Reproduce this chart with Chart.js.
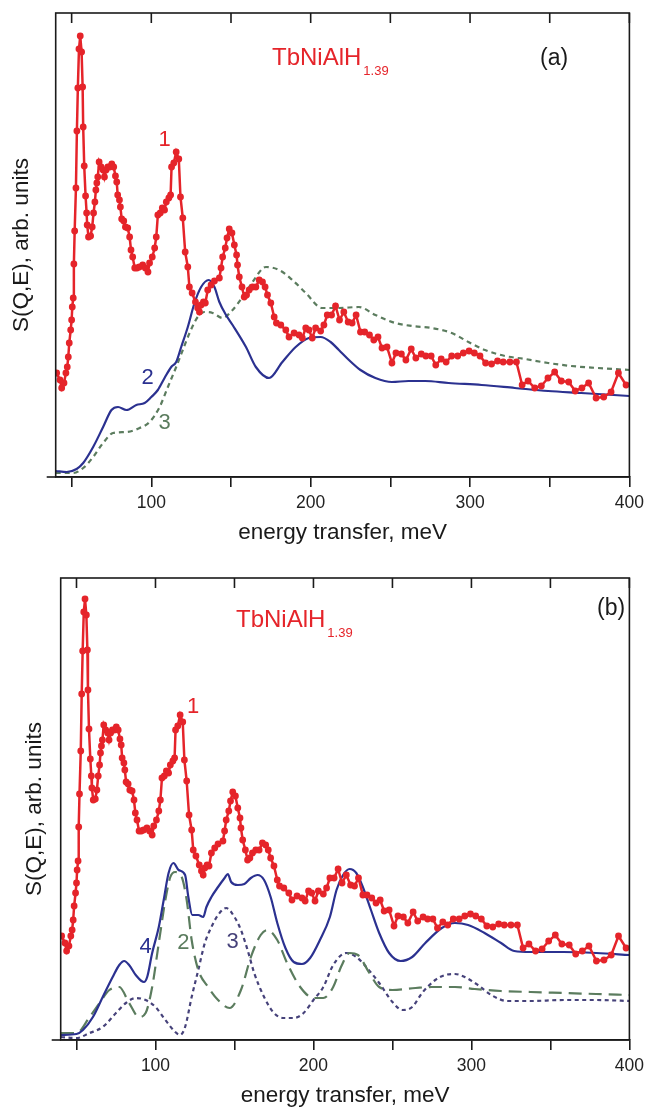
<!DOCTYPE html>
<html><head><meta charset="utf-8">
<script src="https://cdn.jsdelivr.net/npm/chart.js@4.4.1/dist/chart.umd.min.js"></script>
<style>
html,body{margin:0;padding:0;background:#fff;width:650px;height:1109px;overflow:hidden}
canvas{position:absolute;left:0}
#ca{top:0}
#cb{top:555px}
</style></head><body>
<canvas id="ca" width="650" height="555"></canvas>
<canvas id="cb" width="650" height="554"></canvas>
<script>
// ---- measured spectrum (curve 1), energy transfer in meV and S(Q,E) in arb. units ----
const redE = [40.6,42.7,43.75,45.2,46.4,47.25,47.9,48.5,49.4,50,50.4,51,51.4,51.9,52.7,53.3,53.9,54.6,55.4,56.25,56.9,57.25,57.9,58.75,59.4,59.75,60.6,61.9,62.9,63.75,64.6,65.2,65.8,66.4,67.25,68.5,69.75,70.6,71.6,72.7,73.9,75.2,76.4,77.5,78.3,78.9,80,80.6,81.4,82.7,83.75,85.2,86.4,87.25,88.3,89.6,91,92.5,94.6,96.25,97.9,98.9,100.6,102.1,103.1,104.1,105.6,106.9,108.3,109.4,111,112.1,112.7,114.1,115.6,117.25,118.3,119.75,121.25,122.9,123.9,125.6,127.7,129.1,130.2,131.25,132.7,133.9,135.4,137.5,139.6,142.7,143.75,144.75,146.4,147.5,148.9,150.6,152.1,153.5,154.1,155.2,156.9,158.3,159.75,161.4,163.5,165.6,167.7,169.75,171.4,172.9,175,177.1,178.5,181.25,184.4,186.4,189.6,192.7,194.75,196.9,198.9,201,203.1,206.25,208.3,210.4,213.1,215.6,218.1,220.8,223.5,226,228.5,231.25,233.9,236.9,239.6,242.25,244.75,247.9,251,253.5,256.9,259.75,263.1,266,269.4,272.25,275.6,278.5,281.9,285,288.5,292.25,295.8,299.4,302.7,306.25,309.75,313.5,317.25,320.8,325,329.1,332.7,336.4,340.6,344.75,348.9,353.1,357.25,361.9,366,370.2,374.4,379.1,383.9,388.5,393.1,397.9];
const redS = [104,97,89,94,104,110,120,134,147,157,170,179,213,246,289,346,389,428,441,425,390,350,311,281,264,252,240,241,250,264,275,287,294,300,315,310,307,300,307,310,310,313,310,301,295,282,277,270,258,256,250,249,240,227,220,209,209,210,212,209,205,214,220,229,240,262,264,269,267,275,279,282,310,314,325,318,280,259,225,210,190,184,175,169,165,172,175,174,187,192,196,199,209,220,229,239,248,244,232,222,212,200,190,180,182,187,190,190,197,195,190,182,174,160,154,152,147,140,144,142,139,149,147,139,149,146,152,162,162,171,157,165,155,154,162,145,145,142,137,140,129,130,114,124,123,117,128,119,123,121,121,112,118,115,121,121,124,126,124,121,114,113,116,115,115,115,92,96,89,91,99,105,96,95,86,89,94,79,80,85,104,92];

// ---- panel (a): curve 2 (solid) and curve 3 (dashed) ----
const blueAE = [40,46.9,53.1,57.25,63.5,69.75,75,79.1,84.4,90.6,95.8,100,104.1,108.3,112.5,115.6,118.75,122.9,127.1,131.25,136,139.6,142.7,146.9,151,159.4,165.6,173.9,182.25,190.6,198.9,206.25,212.5,217.7,224,231.25,240.6,251,261.4,271.9,286.5,307.25,328.1,349,369.75,400];
const blueAS = [6,5,8,14,30,50,67,70,67,72,74,80,87,99,110,115,130,150,174,190,197,190,175,162,152,130,110,99,115,130,139,140,135,127,117,107,99,95,96,96,94,92,89,86,84,81];
const greenAE = [40,51,57.25,63.5,69.75,76,84.4,92.7,98.9,105.2,110.4,115.6,119.75,124,129.1,133.3,138.5,144.75,151,157.25,163.5,171.9,180.2,188.5,196.9,207.25,217.7,230.2,240.6,253.1,263.5,276,288.5,299,309.4,321.9,334.4,349,363.5,380.2,400];
const greenAS = [4,4,9,20,34,44,45,49,55,70,90,110,127,144,160,165,164,159,167,180,195,210,207,197,184,169,169,170,162,154,151,149,144,135,127,121,118,114,111,109,107];

// ---- panel (b): curve 4 (solid), curve 2 (long dash), curve 3 (short dash) ----
const blueBE = [40.2,50,54.1,60.4,66.6,72.9,77.1,80.2,83.3,87.5,92.7,94.75,97.9,102.1,105.2,108.3,111.4,114.6,118.75,120.8,123.3,127.1,130.2,132.25,135.4,139.6,143.75,145.8,147.9,152.1,156.25,160.4,164.6,168.75,172.9,177.1,182.25,187.5,192.7,197.9,204.1,210.4,214.6,218.75,222.9,227.1,231.25,236.4,241.6,247.9,255.2,262.5,270.8,281.25,289.6,297.9,308.3,318.75,327.1,337.5,358.3,379.1,400];
const blueBS = [5,6,10,23,43,63,75,79,75,65,58,63,87,113,140,167,177,170,165,143,125,125,123,133,143,153,162,166,158,155,156,162,165,160,143,117,92,78,76,82,100,123,150,165,171,167,153,130,107,87,79,83,97,112,117,115,107,97,89,88,88,87,85];
const greenBE = [40.2,50,58.3,64.6,70.8,77.1,83.3,89.6,93.75,97.9,102.1,106.25,109.4,112.5,116.6,119.75,122.9,127.1,133.3,139.6,146.9,154.1,160.4,166.6,170.8,177.1,183.3,191.6,200,206.25,212.5,217.7,222.9,228.1,235.4,241.6,250,264.6,275,289.6,302.1,318.75,337.5,358.3,379.1,400];
const greenBS = [7,7,23,37,50,53,37,23,27,53,97,140,163,168,163,140,100,70,53,40,32,50,83,105,110,100,77,53,42,42,53,74,87,85,67,53,50,52,53,53,51,49,48,47,46,45];
const purpleBE = [40.2,50,58.3,66.6,75,81.25,87.5,93.75,100,106.25,112.5,115.6,118.75,122.9,127.1,131.25,135.4,139.6,144.75,150,154.1,158.3,162.5,168.75,175,181.25,187.5,193.75,200,206.25,212.5,220.8,227.1,233.4,241.6,250,256.25,262.5,268.75,277.1,283.3,289.6,295.8,304.1,312.5,322.9,337.5,358.3,379.1,400];
const purpleBS = [3,2,7,13,27,37,42,40,33,20,8,5,13,43,70,97,113,125,132,123,110,90,67,43,27,22,22,27,40,53,75,87,83,73,57,38,30,33,47,60,65,66,63,55,45,39,39,40,40,39];

// ---- axis ticks ----
const tickVals = [50,100,150,200,250,300,350,400];
const labelVals = [100,200,300,400];

const FONT = '"Liberation Sans", Arial, Helvetica, sans-serif';
const RED = '#e5242a', BLUE = '#2b3190', GREEN = '#5b7c5e', PURPLE = '#46427a', INK = '#1a1a1a';

function pairs(xs, ys) { return xs.map((x, i) => ({x: x, y: ys[i]})); }

const framePlugin = {
  id: 'frame',
  afterDraw(chart, args, o) {
    const ctx = chart.ctx, a = chart.chartArea, xs = chart.scales.x, ys = chart.scales.y;
    ctx.save();
    ctx.strokeStyle = INK; ctx.lineWidth = 1.6;
    ctx.strokeRect(a.left, a.top, a.right - a.left, a.bottom - a.top);
    ctx.beginPath(); ctx.moveTo(a.left - 9, a.bottom); ctx.lineTo(a.left, a.bottom); ctx.stroke();
    tickVals.forEach(v => {
      const px = xs.getPixelForValue(v);
      ctx.beginPath(); ctx.moveTo(px, a.top); ctx.lineTo(px, a.top + 10); ctx.stroke();
    });
    // curve labels in data coordinates
    ctx.textAlign = 'center'; ctx.textBaseline = 'middle';
    o.labels.forEach(l => {
      ctx.fillStyle = l.color; ctx.font = '22px ' + FONT;
      ctx.fillText(l.text, xs.getPixelForValue(l.e), ys.getPixelForValue(l.s));
    });
    // compound name with subscript
    ctx.textAlign = 'left'; ctx.textBaseline = 'alphabetic';
    ctx.fillStyle = RED; ctx.font = '24px ' + FONT;
    const tx = a.left + o.titleDx, ty = a.top + o.titleDy;
    ctx.fillText('TbNiAlH', tx, ty);
    const w = ctx.measureText('TbNiAlH').width;
    ctx.font = '13px ' + FONT;
    ctx.fillText('1.39', tx + w + 2, ty + 10);
    // panel letter
    ctx.fillStyle = INK; ctx.font = '23px ' + FONT;
    ctx.fillText(o.panel, a.left + o.panelDx, a.top + o.panelDy);
    // axis titles
    ctx.font = '22.5px ' + FONT; ctx.textAlign = 'center'; ctx.textBaseline = 'middle';
    ctx.fillText('energy transfer, meV', (a.left + a.right) / 2, a.bottom + 56);
    ctx.translate(o.yTitleX, (a.top + a.bottom) / 2);
    ctx.rotate(-Math.PI / 2);
    ctx.fillText('S(Q,E), arb. units', 0, 0);
    ctx.restore();
  }
};

function curve(xs, ys, color, dash, order) {
  return {data: pairs(xs, ys), borderColor: color, borderWidth: 2.2, borderDash: dash,
    pointRadius: 0, cubicInterpolationMode: 'monotone', fill: false, order: order};
}
function redSet() {
  return {data: pairs(redE, redS), borderColor: RED, backgroundColor: RED, borderWidth: 2.5,
    pointRadius: 3.4, pointBorderWidth: 0, pointBackgroundColor: RED, tension: 0, fill: false, order: 0};
}

function makePanel(id, datasets, pad, yMax, opts) {
  return new Chart(document.getElementById(id), {
    type: 'line',
    data: {datasets: datasets},
    plugins: [framePlugin],
    options: {
      responsive: false, animation: false, devicePixelRatio: 1,
      layout: {padding: pad},
      plugins: {legend: {display: false}, tooltip: {enabled: false}, frame: opts},
      scales: {
        x: {type: 'linear', min: 40, max: 400,
          afterBuildTicks: s => { s.ticks = tickVals.map(v => ({value: v})); },
          afterFit: s => { s.height = 40; },
          ticks: {autoSkip: false, maxRotation: 0, padding: 6, color: '#222',
            font: {family: FONT, size: 17.5},
            callback: v => labelVals.includes(v) ? String(v) : ''},
          grid: {display: true, drawOnChartArea: false, drawTicks: true, tickLength: 10, color: INK, lineWidth: 1.6},
          border: {display: true, color: INK, width: 1.6}},
        y: {type: 'linear', min: 0, max: yMax, display: false}
      }
    }
  });
}

makePanel('ca', [
  redSet(),
  curve(blueAE, blueAS, BLUE, [], 1),
  curve(greenAE, greenAS, GREEN, [5, 4], 2)
], {top: 13, right: 18.5, bottom: 38, left: 55.7}, 464, {
  labels: [
    {text: '1', e: 108.3, s: 337, color: RED},
    {text: '2', e: 97.7, s: 99, color: BLUE},
    {text: '3', e: 108.3, s: 54, color: GREEN}
  ],
  titleDx: 216.3, titleDy: 52, panel: '(a)', panelDx: 484.3, panelDy: 52, yTitleX: 22
});

makePanel('cb', [
  redSet(),
  curve(blueBE, blueBS, BLUE, [], 1),
  curve(greenBE, greenBS, GREEN, [13, 7], 2),
  curve(purpleBE, purpleBS, PURPLE, [4, 3.5], 3)
], {top: 23, right: 13.3, bottom: 29, left: 60.7}, 462, {
  labels: [
    {text: '1', e: 123.9, s: 333, color: RED},
    {text: '4', e: 93.75, s: 93, color: BLUE},
    {text: '2', e: 117.7, s: 97, color: GREEN},
    {text: '3', e: 148.9, s: 98, color: PURPLE}
  ],
  titleDx: 175.3, titleDy: 49, panel: '(b)', panelDx: 536.3, panelDy: 37, yTitleX: 35
});
</script>
</body></html>
